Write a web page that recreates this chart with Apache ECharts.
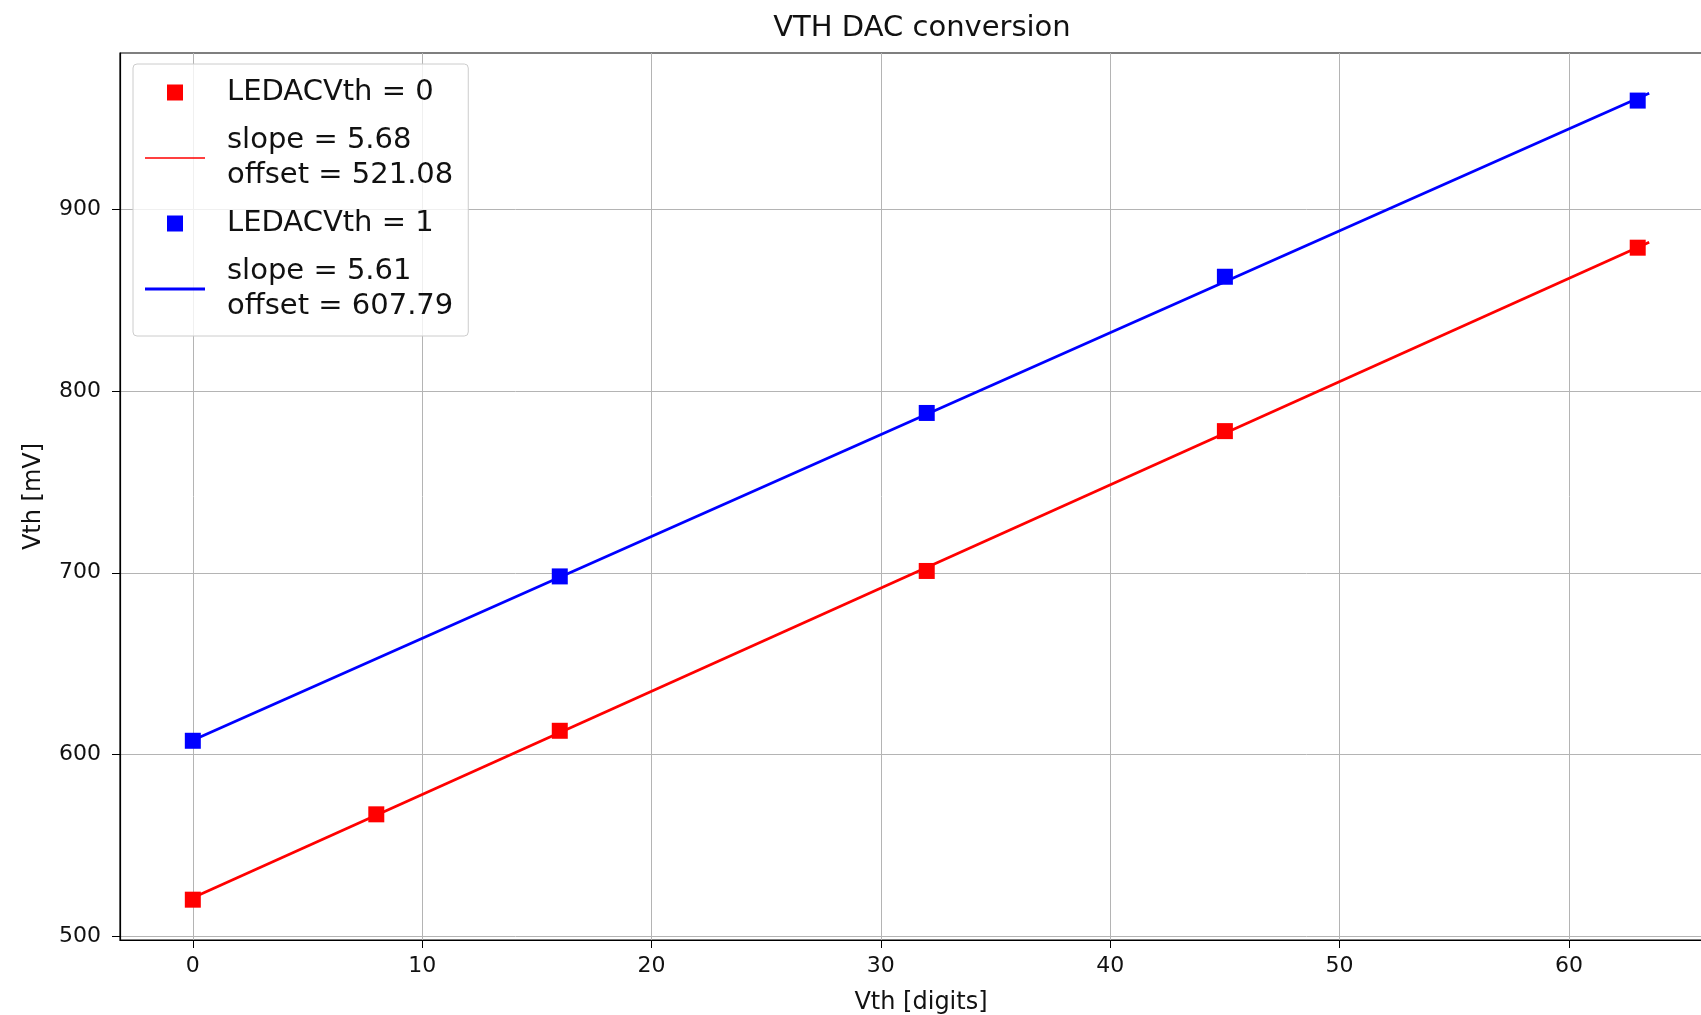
<!DOCTYPE html>
<html>
<head>
<meta charset="utf-8">
<title>VTH DAC conversion</title>
<script src="https://cdn.jsdelivr.net/npm/echarts@6/dist/echarts.min.js"></script>
<style>
    html, body { margin: 0; padding: 0; background: #fff; }
    #chart { width: 1701px; height: 1015px; }
</style>
</head>
<body>
<div id="chart"></div>
<script>
'use strict';

// 测量点 (x = Vth digits)
var digits0 = [0, 8, 16, 32, 45, 63];
var mv0 = [520, 567, 613, 701, 778, 879];
var digits1 = [0, 16, 32, 45, 63];
var mv1 = [607.5, 698, 788, 863, 960];

// 拟合直线的两端
var fitX = [0, 63.5];
var fit0 = [521.08, 882];
var fit1 = [607.79, 964];

var names = ['LEDACVth = 0', 'slope = 5.68\noffset = 521.08', 'LEDACVth = 1', 'slope = 5.61\noffset = 607.79'];
var xTicks = [0, 10, 20, 30, 40, 50, 60];
var yTicks = [500, 600, 700, 800, 900];

function pairs(xs, ys) {
    return xs.map(function (x, i) { return [x, ys[i]]; });
}

// 图例图标: 60x16 的框里画方块或横线
var squareIcon = 'path://M0,0L0,0M22,0L38,0L38,16L22,16ZM60,16L60,16';
function lineIcon(w) {
    var a = 8 - w / 2, b = 8 + w / 2;
    return 'path://M0,0L0,0M0,' + a + 'L60,' + a + 'L60,' + b + 'L0,' + b + 'ZM60,16L60,16';
}

var font = 'DejaVu Sans';
var chart = echarts.init(document.getElementById('chart'));

var option = {
    animation: false,
    title: {
        text: 'VTH DAC conversion',
        left: 917,
        top: 9,
        textAlign: 'center',
        textStyle: { fontFamily: font, fontSize: 29, fontWeight: 'normal', color: '#111' }
    },
    grid: {
        left: 120,
        top: 53,
        width: 1602,
        height: 887,
        outerBoundsMode: 'none',
        containLabel: false,
        show: true,
        borderColor: '#000',
        borderWidth: 1.2
    },
    legend: {
        orient: 'vertical',
        left: 133,
        top: 64,
        padding: [11, 15, 12, 12],
        itemWidth: 60,
        itemHeight: 16,
        itemGap: 13,
        backgroundColor: 'rgba(255,255,255,0.8)',
        borderColor: '#cccccc',
        borderWidth: 1,
        borderRadius: 4,
        data: [
            { name: names[0], icon: squareIcon },
            { name: names[1], icon: lineIcon(1.4) },
            { name: names[2], icon: squareIcon },
            { name: names[3], icon: lineIcon(3.2) }
        ],
        textStyle: { fontFamily: font, fontSize: 29, lineHeight: 35, color: '#111', padding: [0, 0, 0, 17] }
    },
    xAxis: {
        type: 'value',
        min: -3.175,
        max: 66.675,
        name: 'Vth [digits]',
        nameLocation: 'middle',
        nameGap: 51,
        nameTextStyle: { fontFamily: font, fontSize: 24, color: '#111' },
        axisLine: { onZero: false, lineStyle: { color: '#000', width: 1.2 } },
        axisTick: { show: true, length: 8, customValues: xTicks, lineStyle: { color: '#000' } },
        axisLabel: { customValues: xTicks, margin: 15, fontFamily: font, fontSize: 22, color: '#111' },
        splitLine: { show: true, lineStyle: { color: '#b4b4b4', width: 1 } }
    },
    yAxis: {
        type: 'value',
        min: 497.8,
        max: 986.2,
        name: 'Vth [mV]',
        nameLocation: 'middle',
        nameGap: 74,
        nameTextStyle: { fontFamily: font, fontSize: 24, color: '#111' },
        axisLine: { show: true, onZero: false, lineStyle: { color: '#000', width: 1.2 } },
        axisTick: { show: true, length: 8, customValues: yTicks, lineStyle: { color: '#000' } },
        axisLabel: { customValues: yTicks, margin: 19, fontFamily: font, fontSize: 22, color: '#111' },
        splitLine: { show: true, lineStyle: { color: '#b4b4b4', width: 1 } }
    },
    series: [{
        name: names[0],
        type: 'scatter',
        symbol: 'rect',
        symbolSize: 16,
        symbolKeepAspect: true,
        z: 5,
        itemStyle: { color: '#ff0000', opacity: 1 },
        data: pairs(digits0, mv0)
    }, {
        name: names[1],
        type: 'line',
        symbol: 'none',
        z: 3,
        lineStyle: { color: '#ff0000', width: 2.8 },
        itemStyle: { color: '#ff0000' },
        data: pairs(fitX, fit0)
    }, {
        name: names[2],
        type: 'scatter',
        symbol: 'rect',
        symbolSize: 16,
        symbolKeepAspect: true,
        z: 5,
        itemStyle: { color: '#0000ff', opacity: 1 },
        data: pairs(digits1, mv1)
    }, {
        name: names[3],
        type: 'line',
        symbol: 'none',
        z: 3,
        lineStyle: { color: '#0000ff', width: 2.8 },
        itemStyle: { color: '#0000ff' },
        data: pairs(fitX, fit1)
    }]
};

chart.setOption(option);
</script>
</body>
</html>
